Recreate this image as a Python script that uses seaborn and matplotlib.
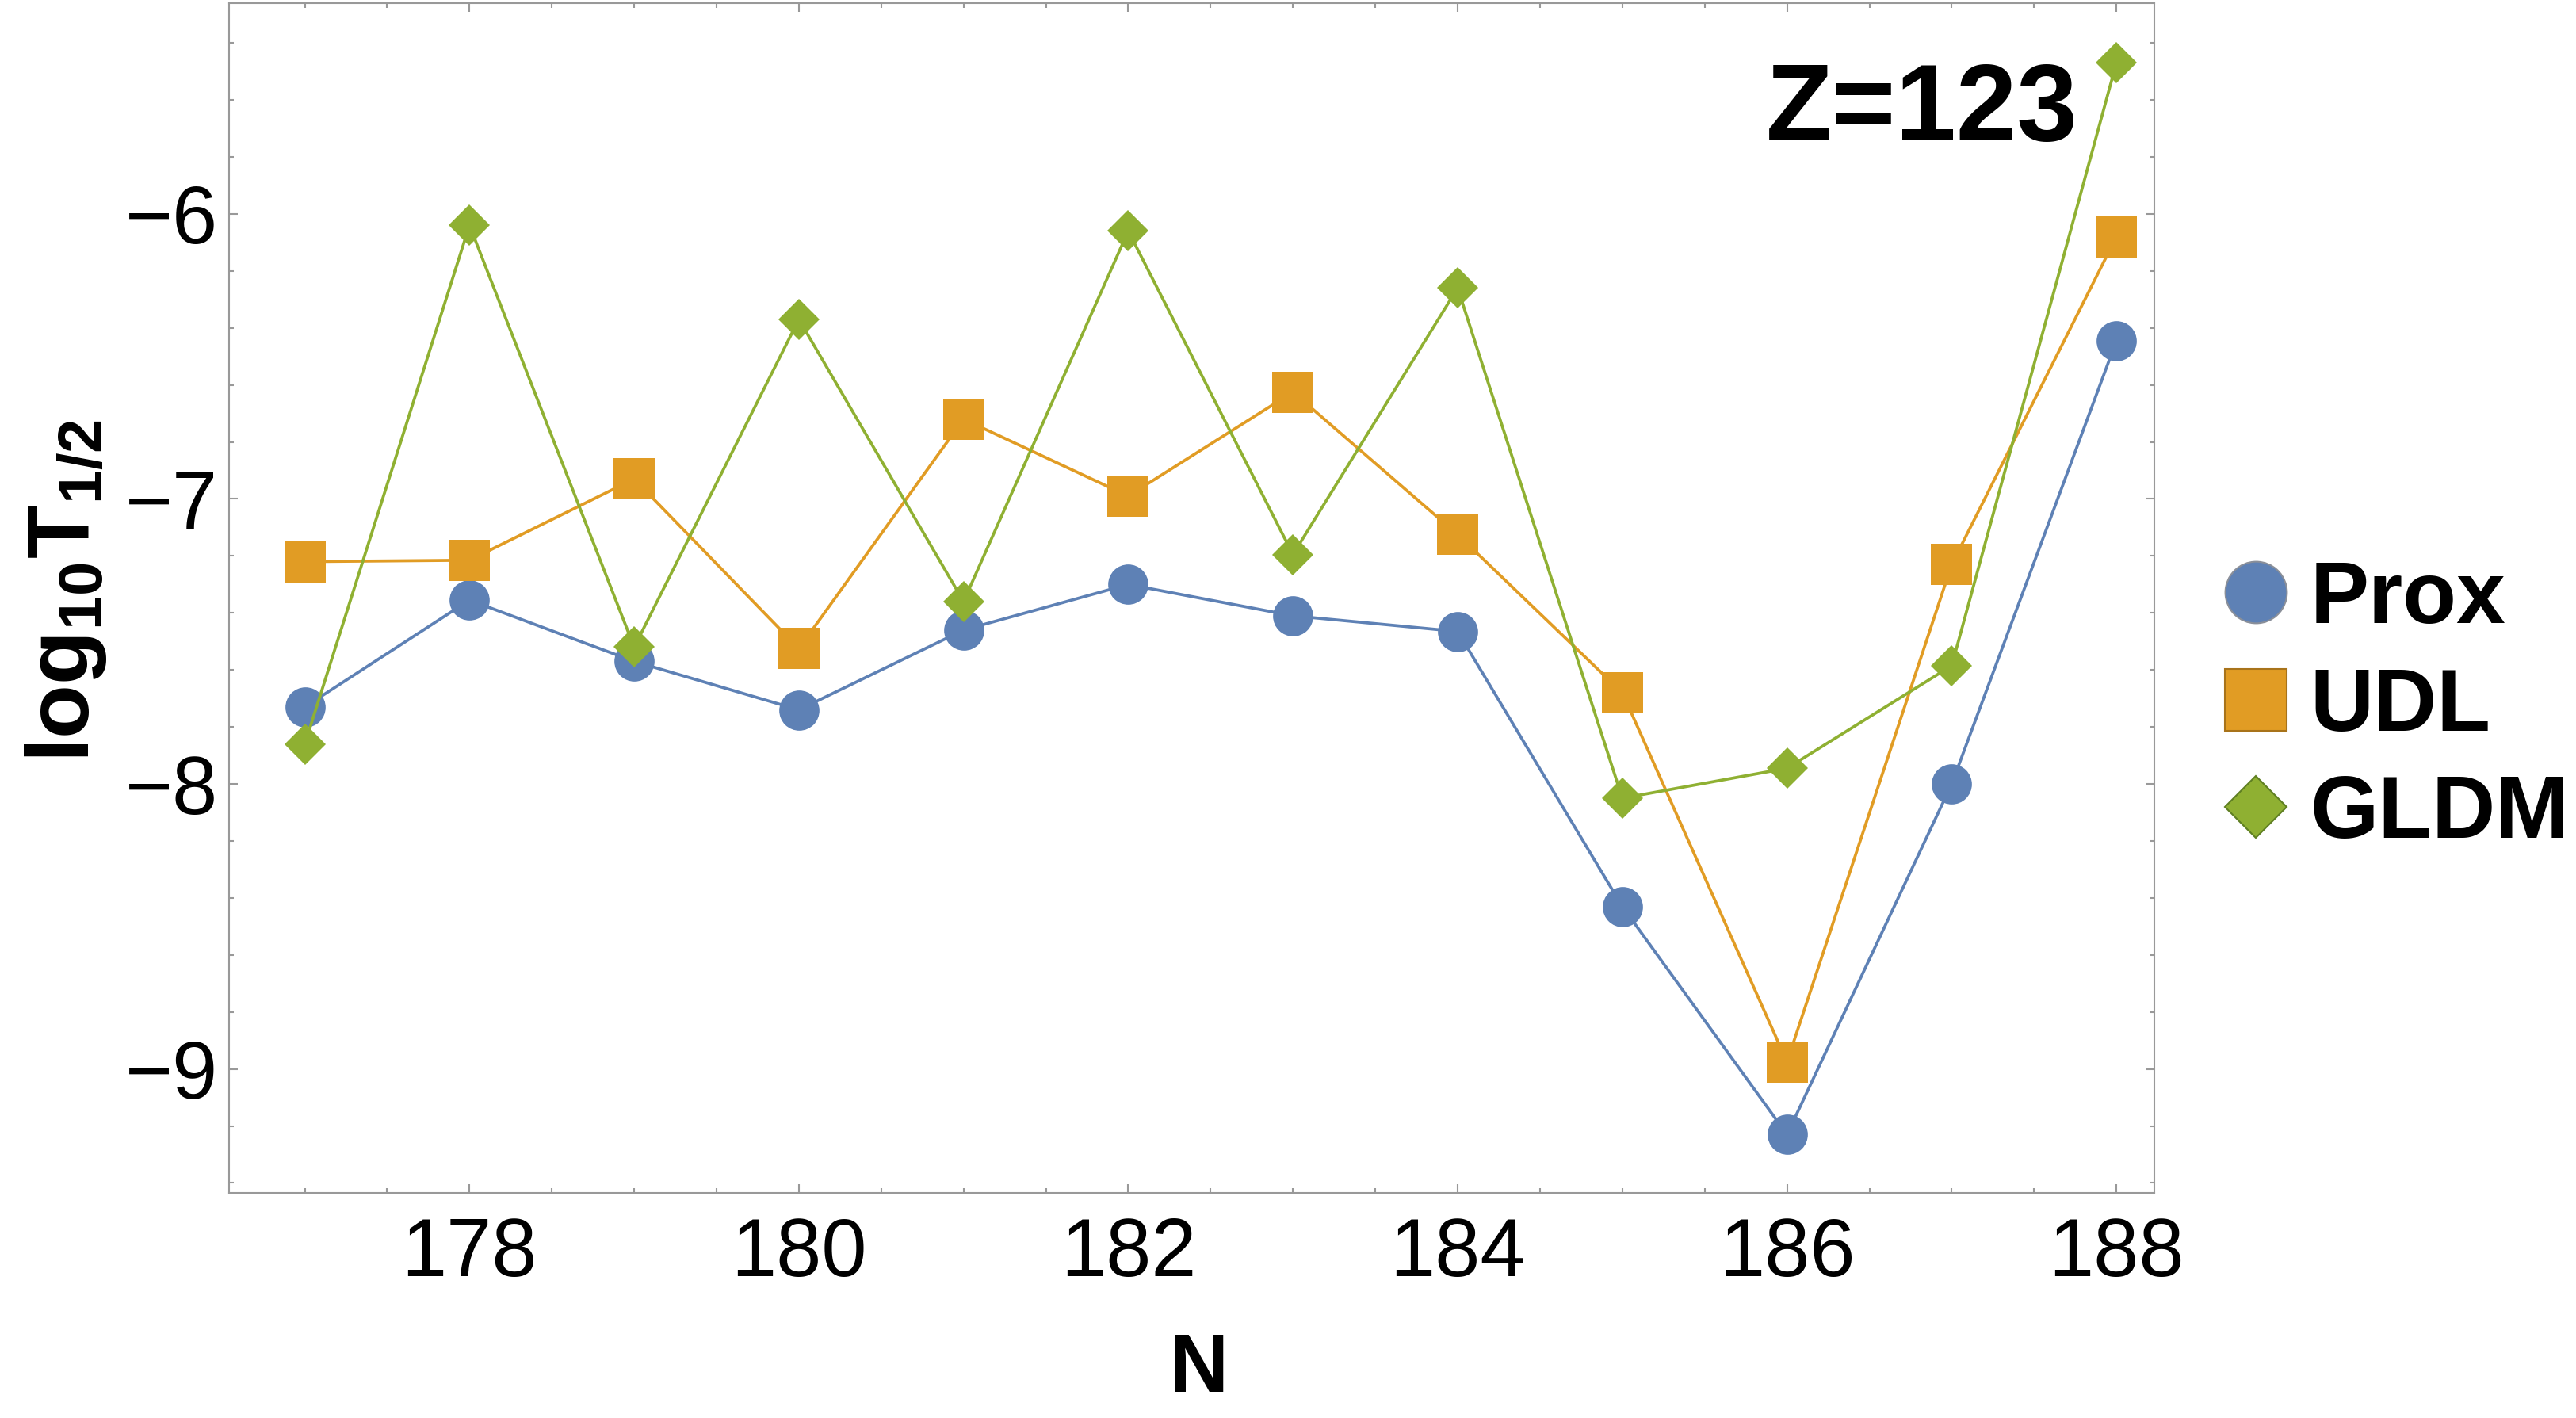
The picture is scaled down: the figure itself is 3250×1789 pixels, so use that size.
import numpy as np
import pandas as pd
import matplotlib
matplotlib.use('Agg')
import matplotlib.pyplot as plt
import seaborn as sns
from matplotlib.lines import Line2D
from matplotlib.ticker import MultipleLocator

# ---- data ----
N = [177, 178, 179, 180, 181, 182, 183, 184, 185, 186, 187, 188]
prox = [-7.73, -7.355, -7.57, -7.74, -7.46, -7.30, -7.41, -7.465, -8.43, -9.23, -8.00, -6.445]
udl = [-7.22, -7.215, -6.93, -7.525, -6.72, -6.99, -6.625, -7.125, -7.68, -8.975, -7.23, -6.08]
gldm = [-7.86, -6.04, -7.52, -6.37, -7.36, -6.06, -7.195, -6.26, -8.05, -7.945, -7.585, -5.47]
series_names = ['Prox', 'UDL', 'GLDM']
colors = ['#5E81B5', '#E19C24', '#8FB032']
edge_colors = ['#8A8F99', '#A8731A', '#5F7F22']
x_label = 'N'
y_label = r'$\mathbf{log_{10}T_{1/2}}$'
annotation = 'Z=123'

sns.set_style('ticks')
plt.rcParams['font.family'] = ['Liberation Sans', 'DejaVu Sans']
plt.rcParams['mathtext.fontset'] = 'custom'
plt.rcParams['mathtext.rm'] = 'Liberation Sans'
plt.rcParams['mathtext.bf'] = 'Liberation Sans:bold'
plt.rcParams['mathtext.it'] = 'Liberation Sans:italic'
plt.rcParams['axes.unicode_minus'] = True
plt.rcParams['text.color'] = 'black'
plt.rcParams['axes.labelcolor'] = 'black'
plt.rcParams['xtick.labelcolor'] = 'black'
plt.rcParams['ytick.labelcolor'] = 'black'

df = pd.DataFrame({
    'N': N * 3,
    'value': prox + udl + gldm,
    'model': [s for s in series_names for _ in N],
})

fig = plt.figure(figsize=(32.5, 17.89), dpi=100)
ax = fig.add_axes([0.0889, 0.1585, 0.7474, 0.8394])

markers = {'Prox': 'o', 'UDL': 's', 'GLDM': 'D'}
msizes = {'Prox': 36.5, 'UDL': 37.5, 'GLDM': 26}
leg_sizes = {'Prox': 56, 'UDL': 56, 'GLDM': 40}

for name, c in zip(series_names, colors):
    sub = df[df['model'] == name]
    sns.lineplot(data=sub, x='N', y='value', color=c, marker=markers[name],
                 markersize=msizes[name], markeredgewidth=0, linewidth=2.7,
                 ax=ax, legend=False, sort=False)

ax.set_xlim(176.54, 188.23)
ax.set_ylim(-9.436, -5.26)
ax.xaxis.set_major_locator(MultipleLocator(2))
ax.xaxis.set_minor_locator(MultipleLocator(0.5))
ax.yaxis.set_major_locator(MultipleLocator(1))
ax.yaxis.set_minor_locator(MultipleLocator(0.2))

frame_col = '#999999'
for sp in ax.spines.values():
    sp.set_color(frame_col)
    sp.set_linewidth(1.5)
    sp.set_visible(True)
ax.tick_params(which='both', direction='in', top=True, right=True,
               color=frame_col, width=1.5, labelcolor='black')
ax.tick_params(which='major', length=8)
ax.tick_params(which='minor', length=4.3)
ax.tick_params(axis='x', labelsize=74, pad=21)
ax.tick_params(axis='y', labelsize=74, pad=10)

ax.set_xlabel(x_label, fontsize=74, fontweight='bold', color='black')
ax.xaxis.set_label_coords(0.5035, -0.149)
ax.xaxis.label.set_verticalalignment('center')
ax.set_ylabel(y_label, fontsize=80, color='black')
ax.yaxis.set_label_coords(-0.0848, 0.506)
ax.yaxis.label.set_verticalalignment('center')

ax.text(0.9605, 0.908, annotation, transform=ax.transAxes, ha='right', va='center',
        fontsize=99, fontweight='bold', color='black')

handles = [Line2D([], [], marker=markers[n], color=c, linestyle='none',
                  markersize=leg_sizes[n], markeredgecolor=ec, markeredgewidth=1.5)
           for n, c, ec in zip(series_names, colors, edge_colors)]
fig.legend(handles, series_names, loc='center left', bbox_to_anchor=(0.862, 0.501),
           bbox_transform=fig.transFigure, frameon=False,
           prop={'weight': 'bold', 'size': 80}, handlelength=0.8, handletextpad=0.22,
           labelspacing=0.285, borderpad=0, borderaxespad=0, labelcolor='black')

fig.savefig('out.png', dpi=100)
